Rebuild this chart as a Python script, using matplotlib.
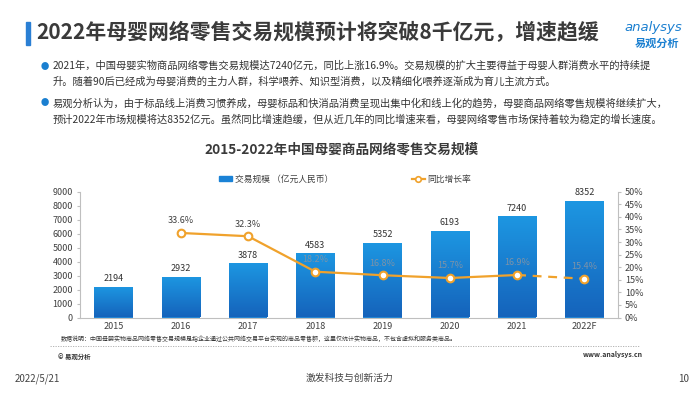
import matplotlib.pyplot as plt
import matplotlib.colors as mcolors
from matplotlib.lines import Line2D
from matplotlib.patches import Patch
import numpy as np

plt.rcParams['font.family'] = ['Noto Sans CJK SC', 'DejaVu Sans']

years = ['2015', '2016', '2017', '2018', '2019', '2020', '2021', '2022F']
scale = [2194, 2932, 3878, 4583, 5352, 6193, 7240, 8352]
growth_years = [1, 2, 3, 4, 5, 6, 7]
growth = [33.6, 32.3, 18.2, 16.8, 15.7, 16.9, 15.4]
yticks_left = [0, 1000, 2000, 3000, 4000, 5000, 6000, 7000, 8000, 9000]
yticks_right = [0, 5, 10, 15, 20, 25, 30, 35, 40, 45, 50]

W, H = 700, 394
fig = plt.figure(figsize=(7, 3.94), dpi=100)

def fx(x):
    return x / W

def fy(y):
    return 1 - y / H

# page header
fig.patches.append(plt.Rectangle((fx(26), fy(45)), fx(4), 23 / H, transform=fig.transFigure,
                                 color='#2a7fd4', zorder=2))
fig.text(fx(36), fy(33), '2022年母婴网络零售交易规模预计将突破8千亿元，增速趋缓',
         fontsize=15, fontweight='bold', color='#3a3a3a', va='center', ha='left')
fig.text(fx(653), fy(28), 'analysys', fontsize=9.5, style='italic', color='#1a7fd0',
         va='center', ha='center', family=['DejaVu Sans'])
fig.text(fx(657), fy(43), '易观分析', fontsize=8, fontweight='bold', color='#1a7fd0',
         va='center', ha='center')

bullets = [
    ['2021年，中国母婴实物商品网络零售交易规模达7240亿元，同比上涨16.9%。交易规模的扩大主要得益于母婴人群消费水平的持续提',
     '升。随着90后已经成为母婴消费的主力人群，科学喂养、知识型消费，以及精细化喂养逐渐成为育儿主流方式。'],
    ['易观分析认为，由于标品线上消费习惯养成，母婴标品和快消品消费呈现出集中化和线上化的趋势，母婴商品网络零售规模将继续扩大，',
     '预计2022年市场规模将达8352亿元。虽然同比增速趋缓，但从近几年的同比增速来看，母婴网络零售市场保持着较为稳定的增长速度。'],
]
bullet_y = [66, 103]
for lines, y0 in zip(bullets, bullet_y):
    fig.text(fx(45), fy(y0), '●', fontsize=6, color='#1a7fd0', va='center', ha='center')
    for i, line in enumerate(lines):
        fig.text(fx(53), fy(y0 + i * 16), line, fontsize=7.4, color='#333333', va='center', ha='left')

fig.text(fx(342), fy(150), '2015-2022年中国母婴商品网络零售交易规模', fontsize=9.8,
         fontweight='bold', color='#3a3a3a', va='center', ha='center')

# chart
ax = fig.add_axes([fx(80), fy(317.5), (618 - 80) / W, (317.5 - 191.7) / H])
x = np.arange(len(years))
bars = ax.bar(x, scale, width=0.57, color='#1a82d6', zorder=2)
ax.set_xlim(-0.5, len(years) - 0.5)
ax.set_ylim(0, 9000)

# vertical gradient inside each bar
cmap = mcolors.LinearSegmentedColormap.from_list('bar', ['#1563bb', '#1d97e2'])
grad = np.linspace(0, 1, 256).reshape(-1, 1)
for b in bars:
    bx, bw, bh = b.get_x(), b.get_width(), b.get_height()
    im = ax.imshow(grad, extent=[bx, bx + bw, 0, bh], origin='lower', cmap=cmap,
                   aspect='auto', zorder=2.1)
    im.set_clip_path(b)
ax.set_xlim(-0.5, len(years) - 0.5)
ax.set_ylim(0, 9000)

for xi, v in zip(x, scale):
    ax.text(xi, v + 250, str(v), ha='center', va='bottom', fontsize=6.5, color='#333333', zorder=5)

ax.set_xticks(x)
ax.set_xticklabels(years, fontsize=6.5, color='#404040')
ax.set_yticks(yticks_left)
ax.set_yticklabels([str(t) for t in yticks_left], fontsize=6.5, color='#404040')
ax.tick_params(axis='x', length=0, pad=3)
ax.tick_params(axis='y', length=2, color='#bfbfbf', pad=3)
for s in ['top', 'right']:
    ax.spines[s].set_visible(False)
for s in ['left', 'bottom']:
    ax.spines[s].set_color('#bfbfbf')
    ax.spines[s].set_linewidth(0.8)
ax.patch.set_alpha(0)

ax2 = ax.twinx()
ax2.set_ylim(0, 50)
ax2.set_yticks(yticks_right)
ax2.set_yticklabels([f'{t}%' for t in yticks_right], fontsize=6.5, color='#404040')
ax2.tick_params(axis='y', length=2, color='#bfbfbf', pad=3)
for s in ['top', 'left', 'bottom']:
    ax2.spines[s].set_visible(False)
ax2.spines['right'].set_color('#bfbfbf')
ax2.spines['right'].set_linewidth(0.8)

orange = '#f0a22c'
gx = np.array(growth_years)
gy = np.array(growth)
ax2.plot(gx[:-1], gy[:-1], color=orange, lw=1.6, zorder=3)
ax2.plot(gx[-2:], gy[-2:], color=orange, lw=1.6, ls=(0, (4, 3)), zorder=3)
ax2.plot(gx, gy, ls='none', marker='o', ms=5.5, mfc='white', mec=orange, mew=1.5, zorder=4)
for xi, v in zip(gx, gy):
    c = '#404040' if v > 25 else '#7d93a8'
    ax2.text(xi, v + 3.0, f'{v}%', ha='center', va='bottom', fontsize=6.5, color=c, zorder=5)

handles = [Patch(color='#1a82d6'),
           Line2D([], [], color=orange, lw=1.6, marker='o', ms=4, mfc='white', mec=orange, mew=1.2)]
fig.legend(handles, ['交易规模 （亿元人民币）', '同比增长率'], loc='center',
           bbox_to_anchor=(fx(345), fy(179)), ncol=2, frameon=False, fontsize=6.3,
           handlelength=1.5, handleheight=0.6, handletextpad=0.3, columnspacing=9.0,
           labelcolor='#404040')

# footer
fig.text(fx(61), fy(339), '数据说明：中国母婴实物商品网络零售交易规模是指企业通过公共网络交易平台实现的商品零售额，这里仅统计实物商品，不包含虚拟和服务类商品。',
         fontsize=4.3, color='#333333', va='center', ha='left')
fig.add_artist(Line2D([fx(50), fx(640)], [fy(346), fy(346)], color='#aaaaaa', lw=0.6, ls=(0, (1.5, 1.5))))
fig.text(fx(58), fy(357), '© 易观分析', fontsize=4.6, fontweight='bold', color='#333333', va='center', ha='left')
fig.text(fx(643), fy(355), 'www.analysys.cn', fontsize=5, fontweight='bold', color='#333333', va='center', ha='right')
fig.text(fx(15), fy(379), '2022/5/21', fontsize=7, color='#444444', va='center', ha='left')
fig.text(fx(349), fy(378), '激发科技与创新活力', fontsize=7, color='#444444', va='center', ha='center')
fig.text(fx(684), fy(379), '10', fontsize=7, color='#444444', va='center', ha='center')

fig.savefig('out.png', dpi=100, facecolor='white')
